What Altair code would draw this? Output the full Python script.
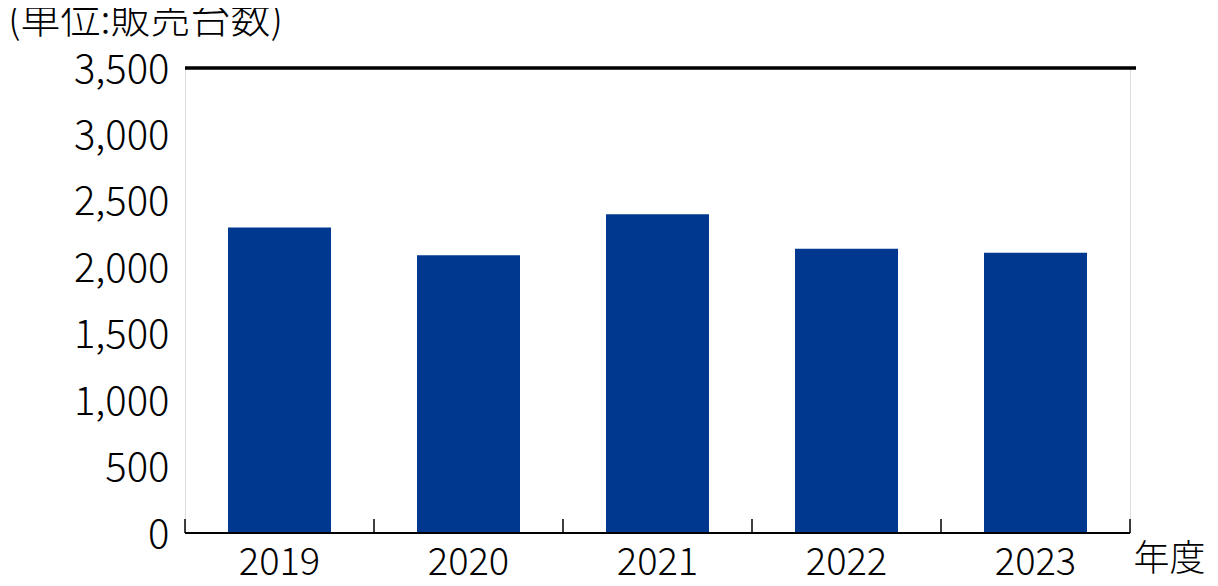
import altair as alt
import pandas as pd

years = ["2019", "2020", "2021", "2022", "2023"]
units = [2300, 2090, 2400, 2140, 2110]
y_ticks = [0, 500, 1000, 1500, 2000, 2500, 3000, 3500]
title_text = "(単位:販売台数)"
x_title = "年度"

FONT = "Noto Sans CJK JP"
df = pd.DataFrame({"year": years, "units": units})

base = alt.Chart(df)

x_enc = alt.X(
    "year:N",
    sort=years,
    scale=alt.Scale(paddingInner=0, paddingOuter=0),
    axis=alt.Axis(
        title=x_title,
        titleFont=FONT,
        titleFontSize=36,
        titleFontWeight=300,
        titleColor="black",
        titleAnchor="end",
        titleAlign="left",
        titleBaseline="top",
        titleX=948,
        titleY=9,
        titleAngle=0,
        labelAngle=0,
        labelFont=FONT,
        labelFontSize=38,
        labelFontWeight=300,
        labelColor="black",
        labelPadding=11,
        domain=False,
        ticks=False,
        tickSize=0,
        grid=False,
    ),
)

bars = base.mark_bar(color="#00388F", width=alt.RelativeBandSize(0.545)).encode(
    x=x_enc,
    y=alt.Y(
        "units:Q",
        scale=alt.Scale(domain=[0, 3500], nice=False),
        axis=alt.Axis(
            title=None,
            values=y_ticks,
            format=",d",
            labelFont=FONT,
            labelFontSize=40,
            labelFontWeight=300,
            labelColor="black",
            labelPadding=16,
            labelOffset=2,
            domain=False,
            ticks=False,
            grid=False,
        ),
    ),
)

# category separator ticks at band boundaries (start of every band, plus end of last)
tick_start = base.mark_rule(color="black", strokeWidth=1.5).encode(
    x=alt.X("year:N", sort=years, bandPosition=0),
    y=alt.datum(0),
    y2=alt.value(451),
)
tick_end = (
    base.transform_filter(alt.datum.year == years[-1])
    .mark_rule(color="black", strokeWidth=1.5)
    .encode(
        x=alt.X("year:N", sort=years, bandPosition=1),
        y=alt.datum(0),
        y2=alt.value(451),
    )
)

baseline = base.mark_rule(color="black", strokeWidth=2).encode(y=alt.datum(0))
topline = base.mark_rule(color="black", strokeWidth=2.5).encode(
    y=alt.datum(3500), x=alt.value(0), x2=alt.value(951)
)

chart = (
    alt.layer(bars, tick_start, tick_end, baseline, topline)
    .properties(
        width=945,
        height=465,
        padding={"left": 177, "top": 60, "right": 80, "bottom": 45},
        autosize=alt.AutoSizeParams(type="none"),
        title=alt.TitleParams(
            title_text,
            anchor="start",
            frame="group",
            dx=-177,
            offset=9,
            font=FONT,
            fontSize=40,
            fontWeight=300,
            color="black",
        ),
    )
    .configure_view(stroke="transparent", strokeWidth=0)
    .configure_axis(grid=False, domain=False)
    .configure(background="white")
)

chart.save("out.html", embed_options={"renderer": "svg", "actions": False})
